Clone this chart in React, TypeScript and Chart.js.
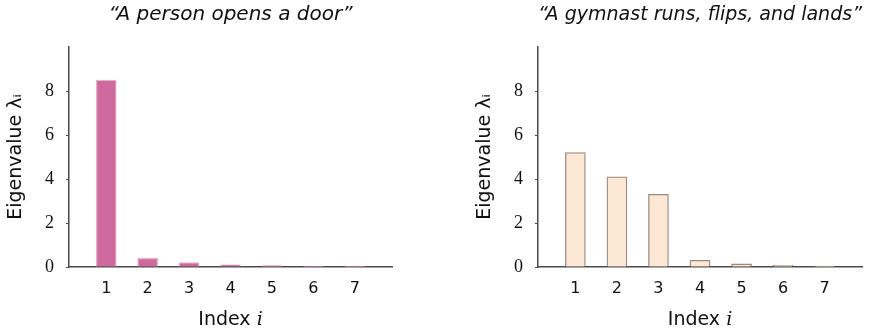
import React, { useEffect, useRef } from "react";
import { Chart, registerables } from "chart.js";

Chart.register(...registerables);

const indices = [1, 2, 3, 4, 5, 6, 7];
const doorValues = [8.5, 0.4, 0.2, 0.1, 0.06, 0.04, 0.03];
const gymnastValues = [5.2, 4.1, 3.3, 0.3, 0.14, 0.08, 0.04];
const yTickValues = [0, 2, 4, 6, 8];
const titles = ["“A person opens a door”", "“A gymnast runs, flips, and lands”"];
const yTitle = "Eigenvalue λᵢ";
const xTitle = "Index 𝑖";

const SANS = "'DejaVu Sans', 'DejaVu Serif', sans-serif";
const SERIF = "'Liberation Serif', 'DejaVu Serif', serif";
const AXIS = "#4a4a4a";

type Panel = {
  title: string;
  values: number[];
  fill: string;
  border: string;
  padLeft: number;
  padRight: number;
};

function makeConfig(p: Panel): any {
  return {
    type: "bar",
    data: {
      datasets: [
        {
          data: indices.map((x, i) => ({ x, y: p.values[i] })),
          backgroundColor: p.fill,
          borderColor: p.border,
          borderWidth: 1.3,
          borderSkipped: "bottom",
          barThickness: 20,
        },
      ],
    },
    options: {
      animation: false,
      responsive: false,
      events: [],
      layout: { padding: { left: p.padLeft, right: p.padRight, top: 0, bottom: 0 } },
      plugins: {
        legend: { display: false },
        tooltip: { enabled: false },
        title: {
          display: true,
          text: p.title,
          fullSize: false,
          color: "#111",
          font: { family: SANS, size: 20, style: "italic", weight: "normal", lineHeight: 1.2 },
          padding: { top: 3, bottom: 20 },
        },
      },
      scales: {
        x: {
          type: "linear",
          min: 0.1,
          max: 7.9,
          offset: false,
          afterBuildTicks: (axis: any) => {
            axis.ticks = indices.map((v) => ({ value: v }));
          },
          afterFit: (scale: any) => {
            scale.height = 66;
          },
          grid: { display: false, drawTicks: false, offset: false },
          border: { display: true, color: AXIS, width: 1.5 },
          ticks: {
            color: "#111",
            padding: 12,
            font: { family: SANS, size: 16 },
            callback: (v: any) => String(v),
          },
          title: {
            display: true,
            text: xTitle,
            color: "#111",
            font: { family: SANS, size: 19, lineHeight: 1.2 },
            padding: { top: 0, bottom: 2 },
          },
        },
        y: {
          type: "linear",
          min: 0,
          max: 10,
          afterBuildTicks: (axis: any) => {
            axis.ticks = yTickValues.map((v) => ({ value: v }));
          },
          afterFit: (scale: any) => {
            scale.width = 69;
          },
          grid: {
            display: true,
            drawOnChartArea: false,
            drawTicks: true,
            tickLength: 3,
            color: AXIS,
            lineWidth: 1,
          },
          border: { display: true, color: AXIS, width: 1.5 },
          ticks: {
            color: "#111",
            padding: 12,
            font: { family: SERIF, size: 18 },
            callback: (v: any) => String(v),
          },
          title: {
            display: true,
            text: yTitle,
            color: "#111",
            font: { family: SANS, size: 19, lineHeight: 1.2 },
            padding: { top: 5, bottom: 0 },
          },
        },
      },
    },
  };
}

function ChartPanel({ panel, left }: { panel: Panel; left: number }) {
  const ref = useRef<HTMLCanvasElement | null>(null);
  useEffect(() => {
    if (!ref.current) return;
    const chart = new Chart(ref.current, makeConfig(panel));
    return () => chart.destroy();
  }, []);
  return (
    <canvas
      ref={ref}
      width={442}
      height={333}
      style={{ position: "absolute", left, top: 0, width: 442, height: 333 }}
    />
  );
}

export default function App() {
  const panels: Panel[] = [
    {
      title: titles[0],
      values: doorValues,
      fill: "#CE6A9D",
      border: "#E6AFCB",
      padLeft: 0,
      padRight: 50,
    },
    {
      title: titles[1],
      values: gymnastValues,
      fill: "#FDE8D5",
      border: "#968980",
      padLeft: 27,
      padRight: 22,
    },
  ];
  return (
    <div
      style={{
        position: "absolute",
        left: 0,
        top: 0,
        width: 884,
        height: 333,
        background: "#fff",
        overflow: "hidden",
      }}
    >
      <ChartPanel panel={panels[0]} left={0} />
      <ChartPanel panel={panels[1]} left={442} />
    </div>
  );
}
